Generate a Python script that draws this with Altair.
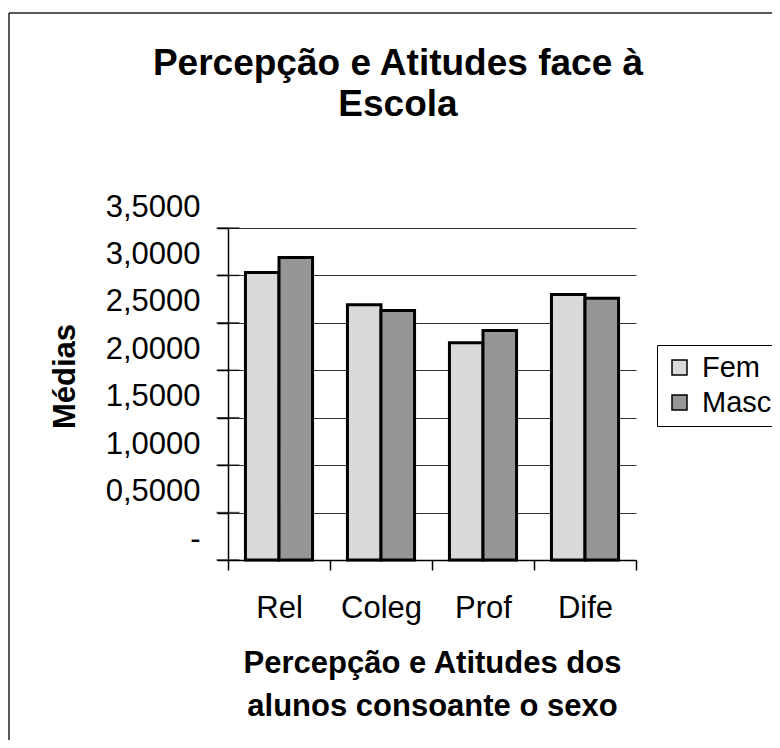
import altair as alt
import pandas as pd

categories = ["Rel", "Coleg", "Prof", "Dife"]
series = ["Fem", "Masc"]
fem = [3.03, 2.69, 2.29, 2.80]
masc = [3.19, 2.63, 2.42, 2.76]
colors = ["#dadada", "#969696"]
y_ticks = [0, 0.5, 1.0, 1.5, 2.0, 2.5, 3.0, 3.5]
title_lines = ["Percepção e Atitudes face à", "Escola"]
x_title = ["Percepção e Atitudes dos", "alunos consoante o sexo"]
y_title = "Médias"

rows = []
for i, c in enumerate(categories):
    rows.append({"cat": c, "sexo": "Fem", "v": fem[i]})
    rows.append({"cat": c, "sexo": "Masc", "v": masc[i]})
df = pd.DataFrame(rows)

FONT = "Liberation Sans"
W, H = 408, 332

bars = alt.Chart(df).mark_bar(stroke="black", strokeWidth=3).encode(
    x=alt.X(
        "cat:N",
        sort=categories,
        scale=alt.Scale(paddingInner=0, paddingOuter=0),
        axis=alt.Axis(
            title=x_title,
            labelAngle=0,
            labelFont=FONT,
            labelFontSize=31,
            labelColor="black",
            labelPadding=23,
            tickBand="extent",
            tickSize=10,
            tickColor="black",
            tickWidth=1.5,
            domainColor="black",
            domainWidth=1.5,
            titleFont=FONT,
            titleFontSize=31,
            titleFontWeight="bold",
            titleColor="black",
            titleLineHeight=43,
            titleBaseline="alphabetic",
            titleY=112,
        ),
    ),
    xOffset=alt.XOffset(
        "sexo:N", sort=series, scale=alt.Scale(paddingOuter=0.52, paddingInner=0)
    ),
    y=alt.Y(
        "v:Q",
        scale=alt.Scale(domain=[0, 3.5]),
        axis=alt.Axis(
            values=y_ticks,
            labelExpr="datum.value == 0 ? '-' : replace(format(datum.value, '.4f'), '.', ',')",
            labelFont=FONT,
            labelFontSize=31,
            labelColor="black",
            labelPadding=17,
            labelOffset=-21,
            tickSize=11,
            tickColor="black",
            tickWidth=1.5,
            domainColor="black",
            domainWidth=1.5,
            grid=True,
            gridColor="#333333",
            gridWidth=1,
            title=y_title,
            titleFont=FONT,
            titleFontSize=31,
            titleFontWeight="bold",
            titleColor="black",
            titleAngle=-90,
            titleAlign="center",
            titleBaseline="alphabetic",
            titleX=-154,
            titleY=148,
        ),
    ),
    color=alt.Color(
        "sexo:N",
        sort=series,
        scale=alt.Scale(domain=series, range=colors),
        legend=alt.Legend(
            title=None,
            orient="none",
            legendX=429,
            legendY=117,
            strokeColor="black",
            padding=8,
            symbolType="square",
            symbolSize=225,
            symbolStrokeColor="black",
            symbolStrokeWidth=1.5,
            labelFont=FONT,
            labelFontSize=29,
            labelColor="black",
            labelOffset=8,
            rowPadding=5,
        ),
    ),
)

# inward half of the crossing y-axis ticks
inner_ticks = alt.Chart(pd.DataFrame({"t": y_ticks})).mark_tick(
    orient="horizontal", color="black", size=23, thickness=1.5
).encode(y=alt.Y("t:Q"), x=alt.value(0))

frame_df = pd.DataFrame({"k": [0]})
top_border = alt.Chart(frame_df).mark_rule(color="#222222", strokeWidth=1.5).encode(
    x=alt.value(-219), x2=alt.value(700), y=alt.value(-215)
)
left_border = alt.Chart(frame_df).mark_rule(color="#222222", strokeWidth=1.5).encode(
    x=alt.value(-219), y=alt.value(-215), y2=alt.value(700)
)

chart = (
    alt.layer(bars, inner_ticks, top_border, left_border)
    .properties(
        width=W,
        height=H,
        autosize=alt.AutoSizeParams(type="none"),
        padding={"left": 220, "top": 220, "right": 136, "bottom": 180},
        title=alt.TitleParams(
            text=title_lines,
            font=FONT,
            fontSize=37,
            fontWeight="bold",
            color="black",
            anchor="middle",
            frame="group",
            dx=-34,
            dy=112,
            offset=0,
            lineHeight=41,
        ),
        background="white",
    )
    .configure_view(strokeWidth=0)
)

chart.save("out.html", embed_options={"renderer": "svg", "actions": False})
